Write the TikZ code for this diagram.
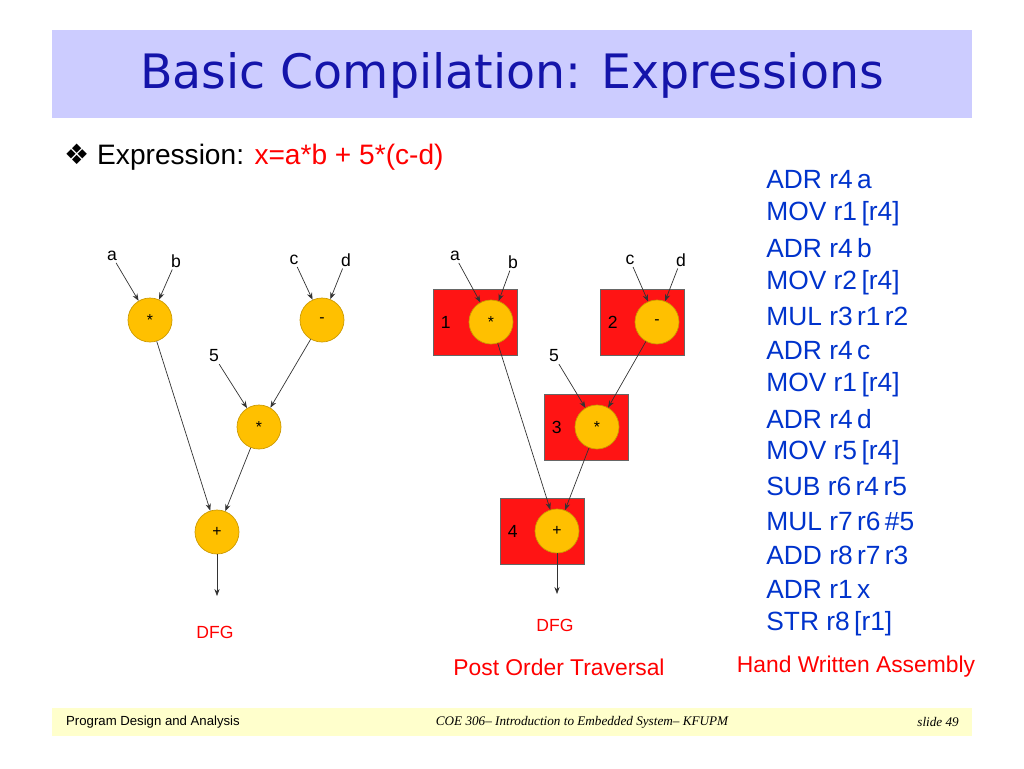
\documentclass[tikz,border=0pt]{standalone}
\usepackage{fontspec}
\setmainfont{Liberation Sans}
\newfontfamily\titlefont{DejaVu Sans}
\newfontfamily\serifit{Liberation Serif}
\usetikzlibrary{arrows.meta, positioning}
\definecolor{titleblue}{RGB}{204,204,255}
\definecolor{titletext}{RGB}{20,20,170}
\definecolor{asmblue}{RGB}{0,51,204}
\definecolor{opfill}{RGB}{255,192,0}
\definecolor{boxred}{RGB}{255,20,20}
\definecolor{footyellow}{RGB}{255,255,204}
\tikzset{
  op/.style={circle, fill=opfill, draw=opfill!80!black, minimum size=44*0.02cm, inner sep=0pt, font=\fontsize{9}{9}\selectfont},
  lbl/.style={font=\fontsize{10}{10}\selectfont, inner sep=1pt},
  regbox/.style={fill=boxred, draw=black!60, minimum width=84*0.02cm, minimum height=66*0.02cm, inner sep=0pt},
  edge/.style={-{Stealth[length=4pt,width=3pt]}, thin, black!80},
  redtxt/.style={text=red, font=\fontsize{13}{13}\selectfont}
}
\begin{document}
\begin{tikzpicture}[x=0.02cm, y=-0.02cm]
    \useasboundingbox (0,0) rectangle (1024,768);
    % title
    \fill[titleblue] (52,30) rectangle (972,118);
    \node[text=titletext, font=\titlefont\fontsize{27}{27}\selectfont] (title) at (512,75) {Basic Compilation: Expressions};
    \node[anchor=west, font=\fontsize{16}{16}\selectfont] (expr) at (58,157) {{\titlefont\char"2756}\ Expression: \textcolor{red}{x=a*b + 5*(c-d)}};

    % left DFG
    \node[op] (m1) at (150,320) {*};
    \node[op] (s1) at (322,320) {-};
    \node[op] (m2) at (259,427) {*};
    \node[op] (p1) at (217,532) {+};
    \node[lbl] (a1) at (112,256) {a};
    \node[lbl] (b1) at (176,261) {b};
    \node[lbl] (c1) at (294,260) {c};
    \node[lbl] (d1) at (346,260) {d};
    \node[lbl] (f1) at (214,356) {5};
    \coordinate (o1) at (217,596);
    \node[text=red, lbl] (g1) at (215,632) {DFG};
    \draw[edge] (a1) -- (m1);
    \draw[edge] (b1) -- (m1);
    \draw[edge] (c1) -- (s1);
    \draw[edge] (d1) -- (s1);
    \draw[edge] (f1) -- (m2);
    \draw[edge] (s1) -- (m2);
    \draw[edge] (m1) -- (p1);
    \draw[edge] (m2) -- (p1);
    \draw[edge] (p1) -- (o1);

    % right DFG
    \node[regbox] (r1) at (475,322) {};
    \node[regbox] (r2) at (642,322) {};
    \node[regbox] (r3) at (586,427) {};
    \node[regbox] (r4) at (542,531) {};
    \foreach \b/\n in {r1/1, r2/2, r3/3, r4/4}
      \node[lbl, right=6*0.02cm of \b.west] {\n};
    \node[op] (m3) at (491,322) {*};
    \node[op] (s2) at (657,322) {-};
    \node[op] (m4) at (597,427) {*};
    \node[op] (p2) at (557,531) {+};
    \node[lbl] (a2) at (455,256) {a};
    \node[lbl] (b2) at (513,262) {b};
    \node[lbl] (c2) at (630,260) {c};
    \node[lbl] (d2) at (681,260) {d};
    \node[lbl] (f2) at (554,356) {5};
    \coordinate (o2) at (557,594);
    \node[text=red, lbl] (g2) at (555,625) {DFG};
    \draw[edge] (a2) -- (m3);
    \draw[edge] (b2) -- (m3);
    \draw[edge] (c2) -- (s2);
    \draw[edge] (d2) -- (s2);
    \draw[edge] (f2) -- (m4);
    \draw[edge] (s2) -- (m4);
    \draw[edge] (m3) -- (p2);
    \draw[edge] (m4) -- (p2);
    \draw[edge] (p2) -- (o2);

    % assembly
    \foreach \t [count=\i from 0] in {ADR r4\,a, MOV r1\,[r4], ADR r4\,b, MOV r2\,[r4], MUL r3\,r1\,r2, ADR r4\,c, MOV r1\,[r4], ADR r4\,d, MOV r5\,[r4], SUB r6\,r4\,r5, MUL r7\,r6\,\#5, ADD r8\,r7\,r3, ADR r1\,x, STR r8\,[r1]}
      \node[anchor=west, text=asmblue, font=\fontsize{15}{15}\selectfont, inner sep=0pt] at (766,180+\i*34.1) {\t};

    \node[redtxt] (cap1) at (559,667) {Post Order Traversal};
    \node[redtxt] (cap2) at (856,667) {Hand Written Assembly};

    % footer
    \fill[footyellow] (52,708) rectangle (972,736);
    \node[anchor=west, font=\fontsize{7.5}{7.5}\selectfont] (fl) at (60,722) {Program Design and Analysis};
    \node[font=\serifit\itshape\fontsize{7.5}{7.5}\selectfont] (fc) at (582,722) {COE 306– Introduction to Embedded System– KFUPM};
    \node[anchor=east, font=\serifit\itshape\fontsize{7.5}{7.5}\selectfont] (fr) at (965,722) {slide 49};
\end{tikzpicture}
\end{document}
